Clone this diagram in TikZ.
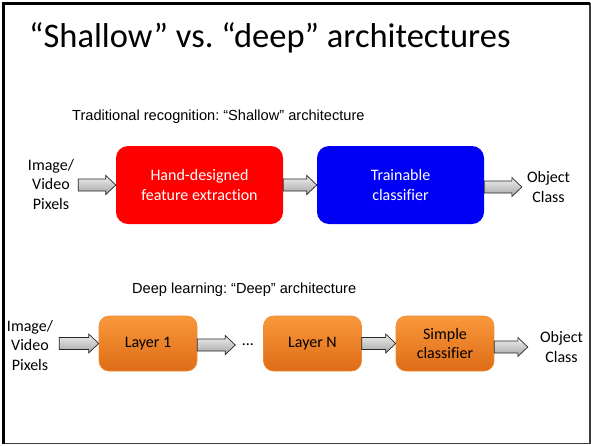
\documentclass[tikz,border=0pt]{standalone}
\usepackage{fontspec}
\setmainfont[Ligatures=NoCommon]{Carlito}
\newfontfamily\arialfont{Liberation Sans}
\usetikzlibrary{calc}
\frenchspacing

\definecolor{boxred}{RGB}{255,0,0}
\definecolor{boxblue}{RGB}{0,0,245}
\definecolor{orangetop}{RGB}{249,152,60}
\definecolor{orangebot}{RGB}{222,108,22}
\definecolor{orangeedge}{RGB}{240,140,55}
\definecolor{arrowtop}{RGB}{240,240,240}
\definecolor{arrowbot}{RGB}{165,165,165}
\definecolor{frameedge}{RGB}{60,60,60}

% Block arrow from the first point to the second, centred on the second's height
\newcommand\blockarrow[2]{%
  \path[blockarr] let \p1=(#1), \p2=(#2) in
    (\x1,\y2+6pt) -- (\x2-10pt,\y2+6pt) -- (\x2-10pt,\y2+9.5pt) -- (\x2,\y2)
    -- (\x2-10pt,\y2-9.5pt) -- (\x2-10pt,\y2-6pt) -- (\x1,\y2-6pt) -- cycle;}

\begin{document}
\begin{tikzpicture}[x=1pt,y=-1pt,
  body/.style={font=\fontsize{16}{19.5}\selectfont, align=center, inner sep=0pt},
  caption/.style={font=\arialfont\fontsize{14.6}{17}\selectfont, anchor=base west, inner sep=0pt},
  bigbox/.style={body, rounded corners=12pt, minimum width=167pt, minimum height=78pt, text=white},
  layerbox/.style={body, rounded corners=10pt, minimum width=98pt, minimum height=55pt,
    top color=orangetop, bottom color=orangebot, draw=orangeedge, line width=0.6pt},
  blockarr/.style={top color=arrowtop, bottom color=arrowbot, draw=black!85, line width=0.7pt, line join=miter}]

\useasboundingbox (0,0) rectangle (591,445);

% slide frame
\draw[frameedge, line width=1.4pt] (3.5,3.5) -- (590,3.5) -- (590,443.5) -- (3.5,443.5);
\draw[black, line width=3pt] (3.5,443.5) -- (3.5,3.5) -- (590,3.5);

% title and row captions
\node[anchor=base west, inner sep=0pt, font=\fontsize{34.5}{40}\selectfont] (title) at (29,47)
  {“Shallow” vs. “deep” architectures};
\node[caption] (cap1) at (72,120) {Traditional recognition: “Shallow” architecture};
\node[caption] (cap2) at (132,293) {Deep learning: “Deep” architecture};

% shallow pipeline
\node[body] (in1) at (51,184) {Image/\\Video\\Pixels};
\node[bigbox, fill=boxred] (feat) at (199.5,185) {Hand-designed\\feature extraction};
\node[bigbox, fill=boxblue] (clf) at (400.5,185) {Trainable\\classifier};
\node[body] (out1) at (548.5,187) {Object\\Class};

\blockarrow{[xshift=4pt]in1.east}{feat.west}
\blockarrow{feat.east}{clf.west}
\blockarrow{clf.east}{[xshift=-5pt]out1.west}

% deep pipeline
\node[body] (in2) at (30,345) {Image/\\Video\\Pixels};
\node[layerbox] (l1) at (148,343.5) {Layer 1};
\node[body] (dots) at (248,345) {…};
\node[layerbox] (ln) at (312.5,343.5) {Layer N};
\node[layerbox] (sc) at (445,343.5) {Simple\\classifier};
\node[body] (out2) at (561.5,347) {Object\\Class};

\blockarrow{[xshift=6pt]in2.east}{l1.west}
\blockarrow{l1.east}{[xshift=-7pt]dots.west}
\blockarrow{ln.east}{sc.west}
\blockarrow{sc.east}{[xshift=-12pt]out2.west}

\end{tikzpicture}
\end{document}
